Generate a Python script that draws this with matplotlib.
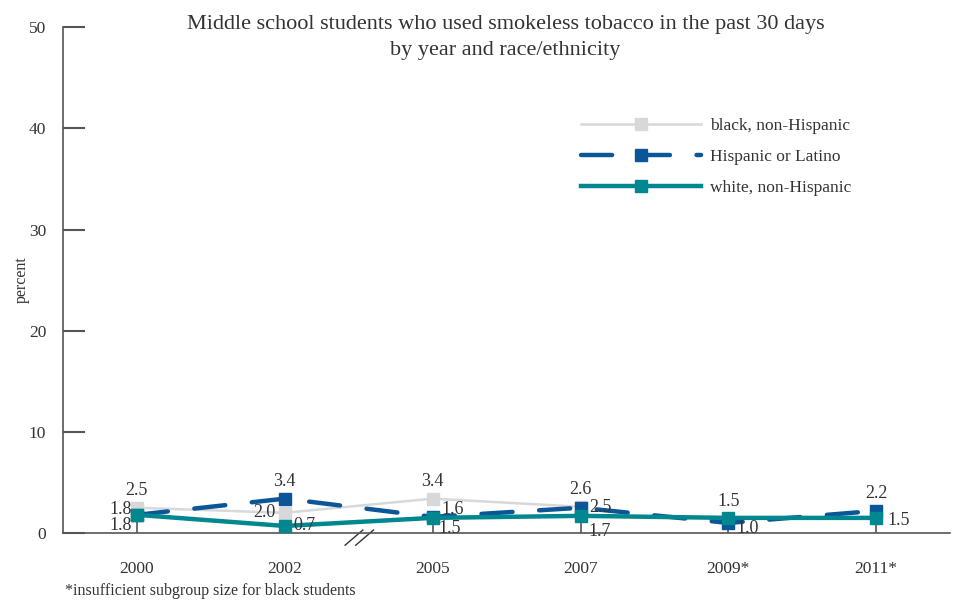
import numpy as np
import matplotlib
matplotlib.use("Agg")
from matplotlib import pyplot as plt

plt.rcParams['font.family'] = ['Liberation Serif', 'DejaVu Serif']

years = ["2000", "2002", "2005", "2007", "2009*", "2011*"]
black = [2.5, 2.0, 3.4, 2.6, np.nan, np.nan]
hispanic = [1.8, 3.4, 1.6, 2.5, 1.0, 2.2]
white = [1.8, 0.7, 1.5, 1.7, 1.5, 1.5]

c_black = "#d8d8da"
c_hisp = "#0b5697"
c_white = "#00878f"
c_text = "#333333"

fig = plt.figure(figsize=(9.54, 6.03), dpi=100)
ax = fig.add_axes([0.066, 0.116, 0.930, 0.839])

x = np.arange(len(years))
ax.plot(x, black, color=c_black, lw=1.8, marker="s", ms=9,
        label="black, non-Hispanic", zorder=2)
ax.plot(x, hispanic, color=c_hisp, lw=3.2, marker="s", ms=9,
        dashes=(7, 6), dash_capstyle="round",
        label="Hispanic or Latino", zorder=3)
ax.plot(x, white, color=c_white, lw=3.2, marker="s", ms=9,
        label="white, non-Hispanic", zorder=4)

ax.set_xlim(-0.5, 5.5)
ax.set_ylim(0, 50)
ax.set_yticks([0, 10, 20, 30, 40, 50])
ax.set_xticks(x)
ax.set_xticklabels(years)
ax.tick_params(axis="y", direction="in", length=16, width=1.5, color="#555555",
               labelsize=12.5, labelcolor=c_text, pad=12)
ax.tick_params(axis="x", direction="in", length=11, width=1.2, color="#555555",
               labelsize=12.5, labelcolor=c_text, pad=20)
for s in ["top", "right"]:
    ax.spines[s].set_visible(False)
for s in ["left", "bottom"]:
    ax.spines[s].set_color("#555555")
    ax.spines[s].set_linewidth(1.2)

ax.set_ylabel("percent", fontsize=11.5, color=c_text)
ax.yaxis.set_label_coords(-0.037, 0.5)

# data labels: value, offset in points, alignment
def lab(vals, i, dx, dy, ha, va):
    ax.annotate(f"{vals[i]:.1f}", (x[i], vals[i]), xytext=(dx, dy),
                textcoords="offset points", ha=ha, va=va,
                fontsize=13, color=c_text, zorder=6)

lab(black, 0, 0, 6, "center", "bottom")
lab(hispanic, 0, -4, 4, "right", "center")
lab(white, 0, -4, -8, "right", "center")
lab(hispanic, 1, 0, 6, "center", "bottom")
lab(black, 1, -7, 0, "right", "center")
lab(white, 1, 6, 0, "left", "center")
lab(black, 2, 0, 6, "center", "bottom")
lab(hispanic, 2, 6, 5, "left", "center")
lab(white, 2, 4, -8, "left", "center")
lab(black, 3, 0, 6, "center", "bottom")
lab(hispanic, 3, 6, 0, "left", "center")
lab(white, 3, 6, -11, "left", "center")
lab(white, 4, 0, 6, "center", "bottom")
lab(hispanic, 4, 6, -4, "left", "center")
lab(hispanic, 5, 0, 6, "center", "bottom")
lab(white, 5, 8, -2, "left", "center")

# axis break mark between 2002 and 2005
for dx in (0, 0.012):
    ax.plot([0.318 + dx, 0.338 + dx], [-0.024, 0.006], transform=ax.transAxes,
            color="#333333", lw=1, clip_on=False)

leg = ax.legend(loc="upper left", bbox_to_anchor=(0.566, 0.852), frameon=False,
                fontsize=12.5, handlelength=6.9, handletextpad=0.55,
                labelspacing=0.85)
for t in leg.get_texts():
    t.set_color(c_text)

fig.text(0.53, 0.975, "Middle school students who used smokeless tobacco in the past 30 days\nby year and race/ethnicity",
         ha="center", va="top", fontsize=16, color=c_text, linespacing=1.5)
fig.text(0.068, 0.006, "*insufficient subgroup size for black students",
         ha="left", va="bottom", fontsize=11.5, color=c_text)

fig.savefig("out.png", dpi=100)
